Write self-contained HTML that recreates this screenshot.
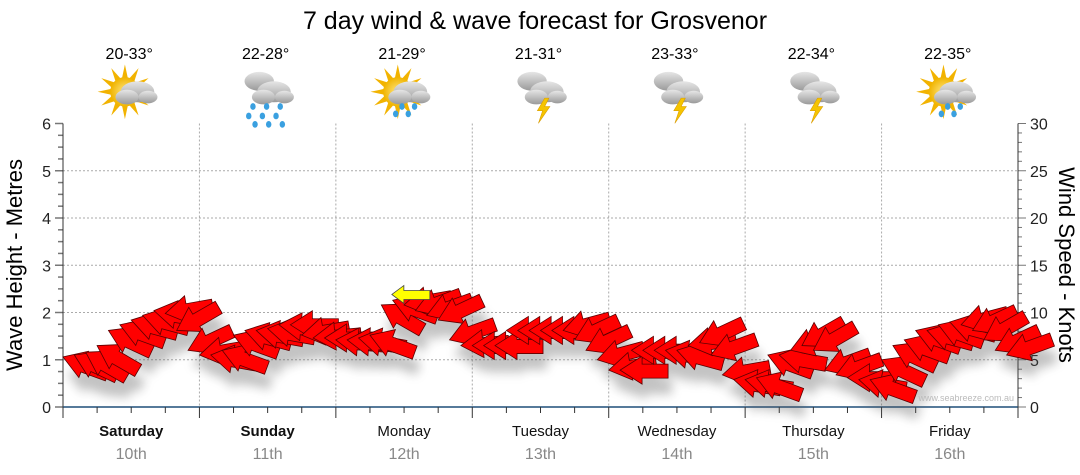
<!DOCTYPE html>
<html><head><meta charset="utf-8">
<style>
body{margin:0;background:#fff;width:1080px;height:475px;overflow:hidden;font-family:"Liberation Sans",sans-serif}
svg{display:block}
</style></head>
<body>
<svg id="chart" width="1080" height="475" viewBox="0 0 1080 475" xmlns="http://www.w3.org/2000/svg">
<defs>
<filter id="sh" x="-50%" y="-50%" width="200%" height="250%"><feGaussianBlur stdDeviation="5"/></filter>
<radialGradient id="sun" cx="50%" cy="50%" r="50%"><stop offset="0" stop-color="#ffe680"/><stop offset="1" stop-color="#f0b400"/></radialGradient>
<linearGradient id="cl" x1="0" y1="0" x2="0" y2="1"><stop offset="0" stop-color="#e6e6e6"/><stop offset="1" stop-color="#9a9a9a"/></linearGradient>
</defs>
<text x="535" y="29" font-size="25" text-anchor="middle" fill="#000">7 day wind &amp; wave forecast for Grosvenor</text>
<g id="grid"></g>
<g id="axes"></g>
<g id="icons"></g>
<g id="marks"></g>
<text transform="translate(22,265) rotate(-90)" font-size="22" text-anchor="middle">Wave Height - Metres</text>
<text transform="translate(1059,265) rotate(90)" font-size="22" text-anchor="middle">Wind Speed - Knots</text>
<text x="1014" y="401" font-size="9" fill="#bbb" text-anchor="end">www.seabreeze.com.au</text>
</svg>
<script>
const days=["Saturday","Sunday","Monday","Tuesday","Wednesday","Thursday","Friday"];
const dates=["10th","11th","12th","13th","14th","15th","16th"];
const temps=["20-33°","22-28°","21-29°","21-31°","23-33°","22-34°","22-35°"];
const weather=["partly","rain","sunshower","storm","storm","storm","sunshower"];
const waveTicks=[0,1,2,3,4,5,6];
const windTicks=[0,5,10,15,20,25,30];
// wind speed in knots, every 2 hours (12 per day)
const windSpeed=[
5.3,5.5,5.8,6.5,8.1,8.7,9.2,9.7,10.2,9.9,8.1,6.0,
5.5,5.5,6.0,7.6,8.1,8.1,8.3,8.7,8.7,7.6,7.3,7.3,
7.1,7.1,7.3,7.6,10.8,11.3,10.8,10.2,9.7,9.2,7.1,6.5,
6.5,6.5,6.5,8.1,8.1,8.1,8.1,8.1,8.1,7.1,6.0,5.0,
3.9,3.9,6.0,6.0,6.0,6.0,6.0,6.5,6.8,5.5,3.4,2.9,
2.9,3.1,5.5,5.5,6.0,6.5,6.0,3.9,3.4,3.1,2.9,2.9,
5.0,6.5,7.1,8.1,8.1,8.7,9.0,8.7,8.1,7.1,6.0,5.5];
// arrow rotation (deg)
const windDir=[
20,25,30,30,25,20,15,15,10,-10,-30,-25,
-10,10,20,20,15,10,10,5,0,-10,-5,0,
5,5,10,20,30,20,-10,-20,-20,-25,-20,-5,
0,0,0,0,0,0,0,0,-15,-25,-25,-15,
-10,0,0,0,0,10,15,-10,-25,-20,-10,10,
10,20,20,10,-20,-30,-30,-20,-20,0,10,20,
25,25,20,20,15,20,15,-15,-25,-30,-25,-20];
const markerX=2.0, markerKnots=11.8;

const NS="http://www.w3.org/2000/svg";
const X0=63,X1=1018,Y0=407,Y6=123.5;
const dayW=(X1-X0)/7;
const xDay=d=>X0+d*dayW;
const yWave=m=>Y0-(Y0-Y6)*m/6;
const yWind=k=>Y0-(Y0-Y6)*k/30;
function el(tag,attrs,parent){const e=document.createElementNS(NS,tag);for(const k in attrs)e.setAttribute(k,attrs[k]);parent.appendChild(e);return e;}
const grid=document.getElementById('grid'),axes=document.getElementById('axes'),icons=document.getElementById('icons'),marks=document.getElementById('marks');

waveTicks.forEach(v=>{
 if(v>0&&v<6){const g=el('line',{x1:X0,x2:X1,y1:yWave(v),y2:yWave(v),stroke:'#aaa','stroke-dasharray':'2,2'},grid);
 
 }
 const t=el('text',{x:X0-12,y:yWave(v)+6,'font-size':16,'text-anchor':'end',fill:'#222'},axes);t.textContent=v;
 
 
});
for(let i=0;i<=24;i++){const v=i*0.25;const y=yWave(v);el('line',{x1:X0-(i%4==0?8:5),x2:X0,y1:y,y2:y,stroke:'#777','stroke-width':1.5},axes);}
windTicks.forEach(v=>{
 const t=el('text',{x:X1+12,y:yWind(v)+6,'font-size':16,fill:'#222'},axes);t.textContent=v;
 
 
});
for(let i=0;i<=30;i++){const y=yWind(i);el('line',{x1:X1,x2:X1+(i%5==0?8:4),y1:y,y2:y,stroke:'#777'},axes);}
el('line',{x1:X0,x2:X0,y1:Y6,y2:Y0,stroke:'#333'},axes);
el('line',{x1:X1,x2:X1,y1:Y6,y2:Y0,stroke:'#333'},axes);
for(let d=1;d<7;d++){const g=el('line',{x1:xDay(d),x2:xDay(d),y1:Y6,y2:Y0,stroke:'#aaa','stroke-dasharray':'2,2'},grid);
 
 }
el('line',{x1:X0,x2:X1,y1:Y0,y2:Y0,stroke:'#1f4e79','stroke-width':1.5},axes);
for(let i=0;i<=28;i++){const x=X0+i*dayW/4;el('line',{x1:x,x2:x,y1:Y0,y2:Y0+(i%4==0?11:6),stroke:'#333'},axes);}

days.forEach((d,i)=>{
 const cx=xDay(i)+dayW/2;
 const t=el('text',{x:cx,y:436,'font-size':15,'text-anchor':'middle',fill:'#111','font-weight':i<2?'bold':'normal'},axes);t.textContent=d;
 
 
 const t2=el('text',{x:cx,y:459,'font-size':16,'text-anchor':'middle',fill:'#888'},axes);t2.textContent=dates[i];
 
 
 const t3=el('text',{x:cx-2,y:59,'font-size':16,'text-anchor':'middle',fill:'#000'},icons);t3.textContent=temps[i];
 
 
 const g=el('g',{transform:`translate(${cx},96) scale(1.05)`},icons);
 
 
 const w=weather[i];
 if(w=='partly'||w=='sunshower'){
  for(let r=0;r<12;r++){const a=r*30;el('polygon',{points:'-3,-12 0,-26 3,-12',fill:'#f2b300',transform:`translate(-6,-4) rotate(${a})`},g);}
  el('circle',{cx:-6,cy:-4,r:14,fill:'url(#sun)'},g);
 }
 if(w=='rain'||w=='storm'){
  el('ellipse',{cx:-8,cy:-14,rx:14,ry:9,fill:'url(#cl)'},g);
 }
 el('ellipse',{cx:6,cy:-4,rx:16,ry:10,fill:'url(#cl)'},g);
 el('ellipse',{cx:-4,cy:1,rx:11,ry:7,fill:'url(#cl)'},g);
 el('ellipse',{cx:16,cy:1,rx:9,ry:6,fill:'url(#cl)'},g);
 if(w=='rain'){[[-14,10],[-1,10],[12,10],[-18,19],[-5,19],[8,19],[-12,27],[1,27],[14,27]].forEach(p=>el('ellipse',{cx:p[0],cy:p[1],rx:2.6,ry:3.2,fill:'#3aa0e0'},g));}
 if(w=='sunshower'){[[-2,10],[10,10],[-8,17],[4,17]].forEach(p=>el('ellipse',{cx:p[0],cy:p[1],rx:2.6,ry:3.2,fill:'#3aa0e0'},g));}
 if(w=='storm'){el('polygon',{points:'4,2 -3,14 2,14 -2,26 9,10 4,10 8,2',fill:'#f5c400',stroke:'#d89a00','stroke-width':0.5},g);}
});

// arrows
const arrowPts='0,0 22,-14 22,-6 48,-6 48,8 22,8 22,14';
const shadows=el('g',{filter:'url(#sh)',opacity:0.35},marks);
const arrowsG=el('g',{},marks);
windSpeed.forEach((k,i)=>{
 const x=X0+i*dayW/12, y=yWind(k);
 el('polygon',{points:arrowPts,fill:'#555',transform:`translate(${x+4},${y+16}) rotate(${windDir[i]})`},shadows);
 const a=el('polygon',{points:arrowPts,fill:'#ff0000',stroke:'#5a0000','stroke-width':0.8,transform:`translate(${x},${y}) rotate(${windDir[i]})`},arrowsG);
 
 
});
const m=el('polygon',{points:'0,0 12,-9 12,-4 38,-4 38,5 12,5 12,9',fill:'#ffff00',stroke:'#444','stroke-width':0.8,transform:`translate(${xDay(markerX)+56},${yWind(markerKnots)-1})`},marks);


</script>
</body></html>
